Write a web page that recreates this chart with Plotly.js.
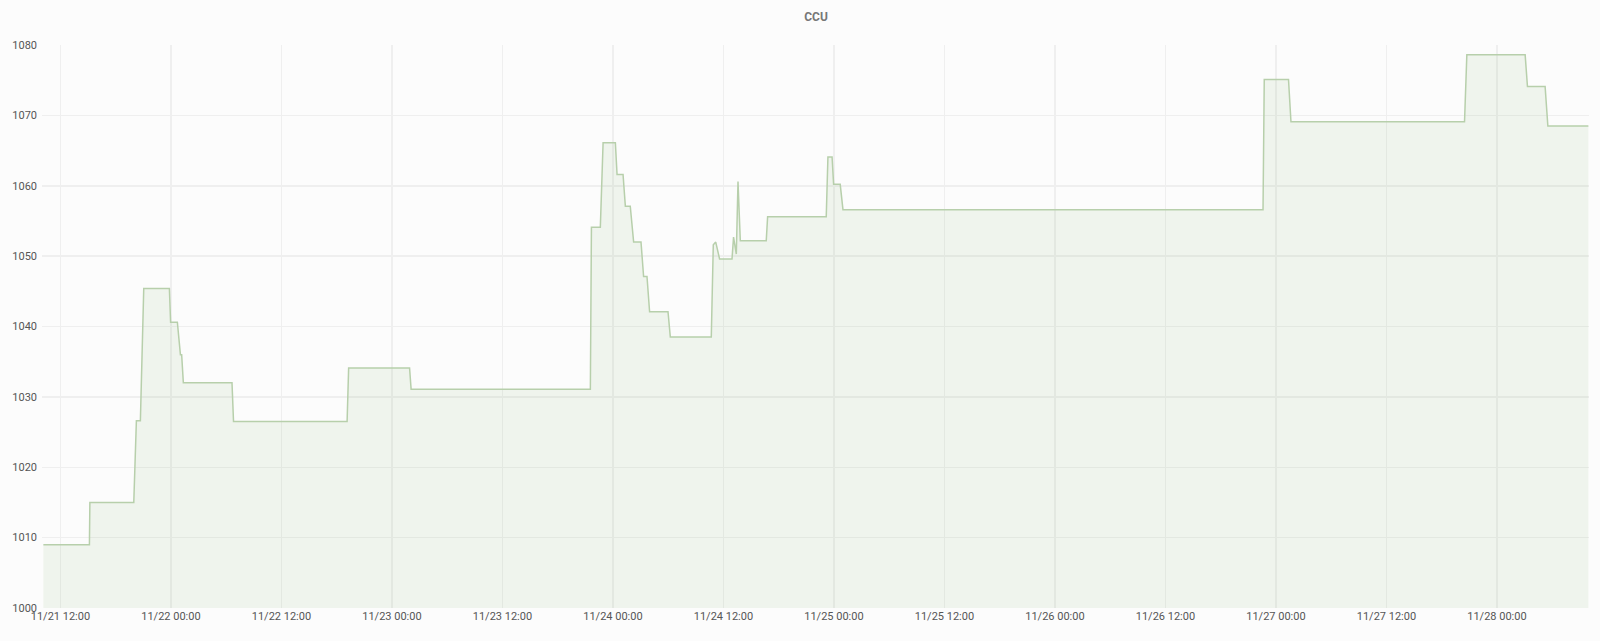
<!DOCTYPE html>
<html>
<head>
<meta charset="utf-8">
<script src="https://cdn.plot.ly/plotly-3.0.1.min.js"></script>
<style>
    html, body { margin: 0; padding: 0; background: #fcfcfc; }
    #chart { width: 1600px; height: 641px; }
</style>
</head>
<body>
<div id="chart"></div>
<script>
const times = [
    "2018-11-21 10:09", "2018-11-21 15:09", "2018-11-21 15:12", "2018-11-21 19:58",
    "2018-11-21 20:15", "2018-11-21 20:41", "2018-11-21 21:03", "2018-11-21 23:50",
    "2018-11-21 23:58", "2018-11-22 00:42", "2018-11-22 01:02", "2018-11-22 01:10",
    "2018-11-22 01:21", "2018-11-22 06:38", "2018-11-22 06:48", "2018-11-22 19:08",
    "2018-11-22 19:18", "2018-11-23 01:55", "2018-11-23 02:05", "2018-11-23 21:33",
    "2018-11-23 21:40", "2018-11-23 22:38", "2018-11-23 22:56", "2018-11-24 00:16",
    "2018-11-24 00:27", "2018-11-24 01:06", "2018-11-24 01:21", "2018-11-24 01:53",
    "2018-11-24 02:15", "2018-11-24 03:03", "2018-11-24 03:20", "2018-11-24 03:42",
    "2018-11-24 03:59", "2018-11-24 05:59", "2018-11-24 06:14", "2018-11-24 10:41",
    "2018-11-24 10:54", "2018-11-24 11:10", "2018-11-24 11:35", "2018-11-24 12:56",
    "2018-11-24 13:06", "2018-11-24 13:24", "2018-11-24 13:35", "2018-11-24 13:50",
    "2018-11-24 16:39", "2018-11-24 16:48", "2018-11-24 23:10", "2018-11-24 23:21",
    "2018-11-24 23:48", "2018-11-24 23:58", "2018-11-25 00:41", "2018-11-25 00:59",
    "2018-11-26 22:36", "2018-11-26 22:44", "2018-11-27 01:22", "2018-11-27 01:38",
    "2018-11-27 20:29", "2018-11-27 20:44", "2018-11-28 03:04", "2018-11-28 03:19",
    "2018-11-28 05:14", "2018-11-28 05:32", "2018-11-28 09:56"
];

const ccu = [
    1009.0, 1009.0, 1015.0, 1015.0,
    1026.6, 1026.6, 1045.4, 1045.4,
    1040.6, 1040.6, 1036.0, 1036.0,
    1032.0, 1032.0, 1026.5, 1026.5,
    1034.1, 1034.1, 1031.1, 1031.1,
    1054.1, 1054.1, 1066.1, 1066.1,
    1061.6, 1061.6, 1057.1, 1057.1,
    1052.0, 1052.0, 1047.1, 1047.1,
    1042.1, 1042.1, 1038.5, 1038.5,
    1051.6, 1052.0, 1049.6, 1049.6,
    1052.7, 1050.3, 1060.6, 1052.2,
    1052.2, 1055.6, 1055.6, 1064.1,
    1064.1, 1060.2, 1060.2, 1056.6,
    1056.6, 1075.1, 1075.1, 1069.1,
    1069.1, 1078.6, 1078.6, 1074.1,
    1074.1, 1068.5, 1068.5
];

const xRange = ["2018-11-21 10:00", "2018-11-28 10:00"];
const yRange = [1000, 1080];

function drawChart() {
    let trace = {
        x: times,
        y: ccu,
        type: "scatter",
        mode: "lines",
        name: "CCU",
        line: { color: "#b7cfab", width: 1.5, shape: "linear" },
        fill: "tozeroy",
        fillcolor: "rgba(126,178,109,0.10)",
        hoverinfo: "x+y"
    };

    let layout = {
        width: 1600,
        height: 641,
        paper_bgcolor: "#fcfcfc",
        plot_bgcolor: "#fcfcfc",
        showlegend: false,
        margin: { l: 42, r: 11, t: 45, b: 33 },
        font: { family: "Roboto, 'Liberation Sans', sans-serif", size: 11, color: "#555" },
        title: {
            text: "<b>CCU</b>",
            font: { size: 12, color: "#777" },
            x: 0.51,
            xanchor: "center",
            y: 0.98,
            yanchor: "top"
        },
        xaxis: {
            type: "date",
            range: xRange,
            tick0: "2018-11-21 12:00",
            dtick: 12 * 3600 * 1000,
            tickformat: "%m/%d %H:%M",
            showgrid: true,
            gridcolor: "#efefef",
            gridwidth: 1.5,
            zeroline: false,
            showline: false,
            ticks: "",
            ticklen: 0,
            tickfont: { size: 11, color: "#555" }
        },
        yaxis: {
            range: yRange,
            dtick: 10,
            showgrid: true,
            gridcolor: "#efefef",
            gridwidth: 1.5,
            zeroline: false,
            showline: false,
            ticks: "",
            ticklabelstandoff: 4,
            tickfont: { size: 11, color: "#555" }
        }
    };

    Plotly.newPlot("chart", [trace], layout, { displayModeBar: false, staticPlot: true });
}

drawChart();
</script>
</body>
</html>
